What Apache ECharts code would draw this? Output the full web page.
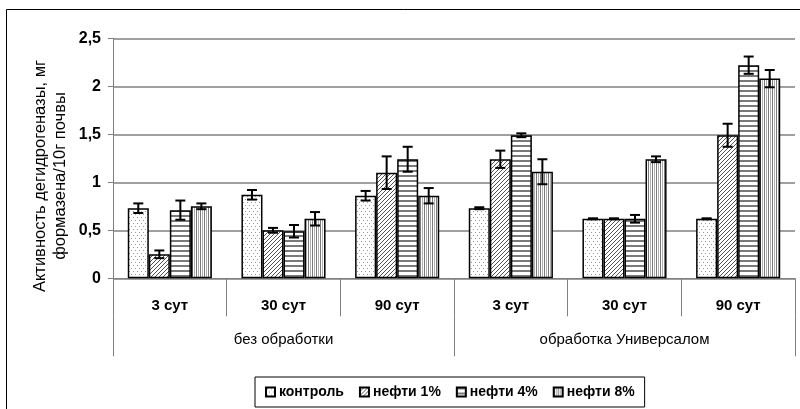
<!DOCTYPE html>
<html>
<head>
<meta charset="utf-8">
<script src="https://cdn.jsdelivr.net/npm/echarts@6/dist/echarts.min.js"></script>
<style>
  html, body { margin: 0; padding: 0; background: #fff; }
  #chart { width: 800px; height: 409px; }
</style>
</head>
<body>
<div id="chart"></div>
<script>
// Sampling days (lower axis level) and treatment groups (upper axis level)
const categories = ['3 сут', '30 сут', '90 сут', '3 сут', '30 сут', '90 сут'];
const groups = ['без обработки', 'обработка Универсалом'];
const seriesNames = ['контроль', 'нефти 1%', 'нефти 4%', 'нефти 8%'];
const yTitle = 'Активность дегидрогеназы, мг\nформазена/10г почвы';

// Dehydrogenase activity, mg formazan / 10 g soil
const control = [0.73, 0.87, 0.86, 0.73, 0.62, 0.62];
const oil1 = [0.25, 0.50, 1.10, 1.24, 0.62, 1.49];
const oil4 = [0.71, 0.49, 1.24, 1.49, 0.62, 2.22];
const oil8 = [0.75, 0.62, 0.86, 1.11, 1.24, 2.08];

// Error margins (±)
const controlErr = [0.05, 0.05, 0.05, 0.01, 0.005, 0.005];
const oil1Err = [0.04, 0.025, 0.17, 0.09, 0.005, 0.12];
const oil4Err = [0.10, 0.065, 0.13, 0.02, 0.04, 0.09];
const oil8Err = [0.03, 0.07, 0.08, 0.13, 0.03, 0.09];

const yTicks = ['0', '0,5', '1', '1,5', '2', '2,5'];

const FONT = "'Liberation Sans', Arial, sans-serif";
const CAT_GAP = 0.26;

// Fill patterns for the bars
function makePattern(w, h, draw) {
  const c = document.createElement('canvas');
  c.width = w; c.height = h;
  const ctx = c.getContext('2d');
  ctx.fillStyle = '#fff';
  ctx.fillRect(0, 0, w, h);
  draw(ctx);
  return { image: c, repeat: 'repeat' };
}
const dotFill = makePattern(4, 6, ctx => {
  ctx.fillStyle = '#999';
  ctx.fillRect(1, 1, 1, 1);
  ctx.fillRect(3, 4, 1, 1);
});
const diagFill = makePattern(4, 4, ctx => {
  ctx.strokeStyle = '#555';
  ctx.lineWidth = 1;
  ctx.beginPath();
  ctx.moveTo(-1, 5); ctx.lineTo(5, -1);
  ctx.moveTo(-1, 1); ctx.lineTo(1, -1);
  ctx.moveTo(3, 5); ctx.lineTo(5, 3);
  ctx.stroke();
});
const horizFill = makePattern(4, 5, ctx => {
  ctx.fillStyle = '#7a7a7a';
  ctx.fillRect(0, 0, 4, 2);
});
const vertFill = makePattern(4, 4, ctx => {
  ctx.fillStyle = '#7a7a7a';
  ctx.fillRect(0, 0, 1, 4);
  ctx.fillStyle = '#b0b0b0';
  ctx.fillRect(2, 0, 1, 4);
});
const fills = [dotFill, diagFill, horizFill, vertFill];
const values = [control, oil1, oil4, oil8];
const errors = [controlErr, oil1Err, oil4Err, oil8Err];

const barSeries = seriesNames.map((name, k) => ({
  name: name,
  type: 'bar',
  barGap: '0%',
  barCategoryGap: (CAT_GAP * 100) + '%',
  data: values[k],
  itemStyle: { color: fills[k], borderColor: '#000', borderWidth: 1.5 },
  emphasis: { disabled: true },
  z: 2
}));

// Error bars drawn through the axis scales, offset to each bar's slot
const errorSeries = seriesNames.map((name, k) => ({
  type: 'custom',
  name: name + ' err',
  z: 5,
  silent: true,
  data: values[k].map((v, i) => [i, v, errors[k][i]]),
  encode: { x: 0, y: 1 },
  renderItem: function (params, api) {
    const ci = api.value(0), v = api.value(1), e = api.value(2);
    const band = api.size([1, 0])[0];
    const total = band * (1 - CAT_GAP);
    const bw = total / seriesNames.length;
    const mid = api.coord([ci, v]);
    const x = mid[0] - total / 2 + bw * (k + 0.5);
    const yHi = api.coord([ci, v + e])[1];
    const yLo = api.coord([ci, v - e])[1];
    const cap = 5;
    const style = { stroke: '#000', lineWidth: 2 };
    return {
      type: 'group',
      children: [
        { type: 'line', shape: { x1: x, y1: yHi, x2: x, y2: yLo }, style: style },
        { type: 'line', shape: { x1: x - cap, y1: yHi, x2: x + cap, y2: yHi }, style: style },
        { type: 'line', shape: { x1: x - cap, y1: yLo, x2: x + cap, y2: yLo }, style: style }
      ]
    };
  }
}));

const chart = echarts.init(document.getElementById('chart'), null, { renderer: 'canvas' });
chart.setOption({
  animation: false,
  backgroundColor: '#fff',
  grid: { left: 113, right: 5, top: 38.3, bottom: 130.7, containLabel: false },
  legend: {
    data: seriesNames,
    bottom: 2,
    left: 255,
    orient: 'horizontal',
    itemWidth: 9,
    itemHeight: 9,
    itemGap: 15,
    padding: [8, 10, 8, 10],
    borderColor: '#000',
    borderWidth: 1,
    selectedMode: false,
    icon: 'rect',
    textStyle: { fontFamily: FONT, fontWeight: 'bold', fontSize: 14, color: '#000', padding: [0, 0, 0, -1] }
  },
  xAxis: [
    {
      type: 'category',
      data: categories,
      position: 'bottom',
      axisLine: { show: true, lineStyle: { color: '#808080', width: 1 } },
      axisTick: { show: true, length: 38, alignWithLabel: false, interval: 0, lineStyle: { color: '#808080', width: 1 } },
      axisLabel: { interval: 0, margin: 20, fontFamily: FONT, fontWeight: 'bold', fontSize: 15, color: '#000' },
      splitLine: { show: false }
    },
    {
      type: 'category',
      data: groups,
      position: 'bottom',
      offset: 38,
      axisLine: { show: false },
      axisTick: { show: true, length: 40, alignWithLabel: false, interval: 0, lineStyle: { color: '#808080', width: 1 } },
      axisLabel: { interval: 0, margin: 16, fontFamily: FONT, fontSize: 15, color: '#000' },
      splitLine: { show: false }
    }
  ],
  yAxis: {
    type: 'value',
    min: 0,
    max: 2.5,
    interval: 0.5,
    axisLine: { show: true, lineStyle: { color: '#808080', width: 1 } },
    axisTick: { show: true, length: 5, lineStyle: { color: '#808080', width: 1 } },
    axisLabel: {
      margin: 12,
      fontFamily: FONT, fontWeight: 'bold', fontSize: 16, color: '#000',
      formatter: v => yTicks[Math.round(v / 0.5)]
    },
    splitLine: { show: true, lineStyle: { color: '#808080', width: 1.5 } }
  },
  graphic: [
    {
      type: 'rect',
      shape: { x: 6.5, y: 9.5, width: 820, height: 420 },
      style: { fill: 'none', stroke: '#000', lineWidth: 1 },
      silent: true,
      z: -1
    },
    {
      // Value-axis title, two rotated lines
      type: 'text',
      x: 50,
      y: 176,
      rotation: Math.PI / 2,
      silent: true,
      style: {
        text: yTitle,
        fontFamily: FONT,
        fontSize: 16.5,
        lineHeight: 20,
        fill: '#000',
        align: 'center',
        verticalAlign: 'middle'
      }
    }
  ],
  series: barSeries.concat(errorSeries)
});
</script>
</body>
</html>
